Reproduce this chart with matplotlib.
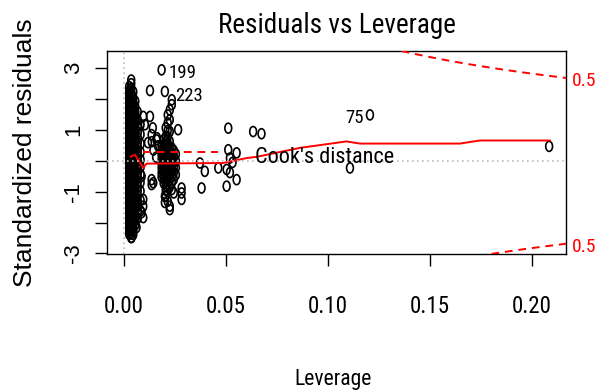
#            ----Residuals vs Leverage----

import numpy as np
import matplotlib
matplotlib.use("Agg")
import matplotlib.pyplot as plt
from matplotlib.path import Path
from matplotlib.transforms import Affine2D, blended_transform_factory

# dense cloud of low-leverage points, one strip per leverage value
strip_lev = [0.0026, 0.0036, 0.0046, 0.0056, 0.0068, 0.0082]
strip_res = [
    [-2.38, -2.27, -2.15, -2.04, -1.93, -1.83, -1.72, -1.62, -1.51, -1.41, -1.31, -1.21,
     -1.11, -1.01, -0.92, -0.82, -0.72, -0.63, -0.53, -0.44, -0.34, -0.25, -0.15, -0.06,
     0.04, 0.13, 0.23, 0.32, 0.42, 0.51, 0.61, 0.71, 0.81, 0.91, 1.01, 1.11, 1.22, 1.32,
     1.43, 1.54, 1.65, 1.77, 1.89, 2.01, 2.14, 2.27, 2.41],
    [-2.49, -2.36, -2.22, -2.1, -1.98, -1.87, -1.76, -1.65, -1.55, -1.45, -1.35, -1.25,
     -1.15, -1.06, -0.96, -0.87, -0.77, -0.68, -0.58, -0.49, -0.39, -0.3, -0.2, -0.11,
     -0.01, 0.08, 0.18, 0.27, 0.37, 0.46, 0.56, 0.66, 0.76, 0.86, 0.96, 1.06, 1.17, 1.27,
     1.38, 1.49, 1.6, 1.72, 1.84, 1.96, 2.09, 2.22, 2.36, 2.5, 2.62],
    [-2.28, -2.14, -2.01, -1.89, -1.77, -1.66, -1.55, -1.44, -1.33, -1.23, -1.13, -1.03,
     -0.93, -0.83, -0.73, -0.63, -0.54, -0.44, -0.35, -0.25, -0.16, -0.06, 0.03, 0.13,
     0.22, 0.32, 0.41, 0.51, 0.61, 0.71, 0.81, 0.91, 1.02, 1.13, 1.24, 1.36, 1.48, 1.61,
     1.75, 1.9, 2.06, 2.24],
    [-2.08, -1.92, -1.77, -1.63, -1.5, -1.37, -1.25, -1.13, -1.01, -0.9, -0.79, -0.68,
     -0.57, -0.46, -0.35, -0.24, -0.13, -0.02, 0.09, 0.2, 0.31, 0.42, 0.53, 0.64, 0.76,
     0.88, 1.0, 1.13, 1.27, 1.42, 1.58, 1.75, 1.93],
    [-1.86, -1.66, -1.47, -1.3, -1.14, -0.98, -0.83, -0.68, -0.54, -0.4, -0.26, -0.12,
     0.02, 0.16, 0.3, 0.45, 0.6, 0.76, 0.93, 1.12, 1.33, 1.58],
    [-1.62, -1.28, -0.98, -0.7, -0.44, -0.2, 0.04, 0.28, 0.55, 0.86, 1.18],
]

# second cluster around leverage 0.02
clus_lev = [0.0185, 0.0195, 0.0205, 0.0215, 0.0225, 0.0235, 0.0245, 0.0255]
clus_res = [
    [-0.52, -0.38, -0.22, -0.08, 0.06, 0.2, 0.34, 0.48],
    [-0.72, -0.58, -0.45, -0.31, -0.17, -0.03, 0.11, 0.25, 0.39, 0.53, 0.68],
    [-1.15, -0.95, -0.8, -0.64, -0.5, -0.36, -0.22, -0.08, 0.06, 0.2, 0.34, 0.48, 0.62,
     0.79, 1.07],
    [-1.31, -0.98, -0.75, -0.58, -0.43, -0.29, -0.15, -0.01, 0.13, 0.27, 0.41, 0.57, 0.78,
     0.98, 1.23, 1.49],
    [-1.58, -1.47, -0.85, -0.62, -0.46, -0.31, -0.17, -0.03, 0.11, 0.25, 0.4, 0.63, 0.95,
     1.33, 1.65],
    [-0.93, -0.7, -0.5, -0.34, -0.19, -0.05, 0.09, 0.24, 0.42, 1.82, 1.98],
    [-1.04, -0.6, -0.38, -0.2, -0.03, 0.15, 0.33],
    [-0.45, -0.22, 0.0, 0.22],
]

# scattered single points
extra_lev = [0.0095, 0.0128, 0.0128, 0.0103, 0.0136, 0.016, 0.0118, 0.0167, 0.0142,
             0.0162, 0.0137, 0.0145, 0.0158, 0.0087, 0.0136, 0.0136, 0.0144, 0.0095,
             0.0095, 0.0087, 0.0095, 0.0062, 0.0046, 0.0038, 0.0266, 0.0283, 0.0283,
             0.0283, 0.0201, 0.0201, 0.0373, 0.0397, 0.0381, 0.0463, 0.0512, 0.0512,
             0.0553, 0.052, 0.0533, 0.0504, 0.052, 0.0553, 0.0504, 0.0634, 0.0675,
             0.1109, 0.2086]
extra_res = [1.44, 1.44, 2.28, 1.17, 0.85, 0.68, 0.59, 0.49, 1.07,
             0.75, 0.62, 0.35, 0.12, -0.5, -0.61, -0.77, -0.71, -1.25,
             -1.47, -1.68, -1.84, -2.16, -2.39, -2.48, 1.01, -0.88, -1.04,
             -1.25, -1.15, -1.35, -0.07, -0.34, -0.88, -0.23, 1.06, 0.36,
             0.26, 0.09, -0.05, -0.28, -0.38, -0.61, -0.82, 0.95, 0.88,
             -0.23, 0.47]

# labelled observations
lab_ids = ["199", "223", "75"]
lab_lev = [0.0185, 0.0201, 0.1207]
lab_res = [2.95, 2.25, 1.49]

# red smoother
smooth_lev = [0.0034, 0.0054, 0.0095, 0.0111, 0.0486, 0.0602, 0.0651, 0.0863,
              0.1092, 0.1158, 0.1648, 0.1746, 0.209]
smooth_res = [0.14, 0.2, -0.23, -0.09, -0.07, 0.09, 0.13, 0.42,
              0.63, 0.56, 0.56, 0.66, 0.66]

n_coef = 4
cook_level = 0.5

lev = []
res = []
for h, rs in zip(strip_lev + clus_lev, strip_res + clus_res):
    lev += [h] * len(rs)
    res += rs
lev += extra_lev + lab_lev
res += extra_res + lab_res

narrow = ["Liberation Sans Narrow", "Arial Narrow", "Roboto Condensed", "PT Sans Narrow",
          "Archivo Narrow", "Liberation Sans"]
regular = ["Liberation Sans", "DejaVu Sans"]

fig = plt.figure(figsize=(6.03, 3.92), dpi=100)
ax = fig.add_axes([0.1774, 0.352, 0.762, 0.5186])

ellipse = Path.unit_circle().transformed(Affine2D().scale(0.68, 1.0))
ax.scatter(lev, res, marker=ellipse, s=52, facecolors="none",
           edgecolors="black", linewidths=1.2, zorder=2)

ax.plot(smooth_lev, smooth_res, color="red", lw=1.4, zorder=3)

ax.axhline(0, color="#bebebe", ls=(0, (1, 2)), lw=1.2, zorder=4)
ax.axvline(0, color="#bebebe", ls=(0, (1, 2)), lw=1.2, zorder=4)

xmin, xmax = -0.0083, 0.2171
ax.set_xlim(xmin, xmax)
ax.set_ylim(-3.02, 3.57)

hh = np.linspace(0.005, xmax, 200)
cook = np.sqrt(cook_level * n_coef * (1 - hh) / hh)
ax.plot(hh, cook, color="red", lw=1.4, dashes=(4, 3), zorder=4)
ax.plot(hh, -cook, color="red", lw=1.4, dashes=(4, 3), zorder=4)

cook_edge = np.sqrt(cook_level * n_coef * (1 - xmax) / xmax)
trans = blended_transform_factory(ax.transAxes, ax.transData)
for sgn in [1, -1]:
    ax.text(1.011, sgn * cook_edge - 0.1, "0.5", transform=trans, color="red",
            ha="left", va="center", fontsize=14, family=narrow, clip_on=False)

# Cook's distance legend
ax.plot([0.078, 0.2416], [0.502, 0.502], transform=ax.transAxes, color="red",
        lw=1.4, dashes=(4, 3), zorder=4)
ax.text(0.322, 0.447, "Cook's distance", transform=ax.transAxes, ha="left",
        va="baseline", fontsize=16, family=narrow, zorder=5)

offsets = [(4.8, -6), (7.2, -7.2), (-4.3, -6)]
for i in range(len(lab_ids)):
    ha = "right" if offsets[i][0] < 0 else "left"
    ax.annotate(lab_ids[i], (lab_lev[i], lab_res[i]), xytext=offsets[i],
                textcoords="offset points", ha=ha, va="baseline",
                fontsize=13.5, family=narrow)

ax.set_xticks([0.0, 0.05, 0.10, 0.15, 0.20])
ax.set_xticklabels(["0.00", "0.05", "0.10", "0.15", "0.20"], family=narrow, fontsize=16.5)
ax.set_yticks([-3, -2, -1, 0, 1, 2, 3])
ax.set_yticklabels(["-3", "", "-1", "", "1", "", "3"], family=regular, fontsize=16,
                   rotation=90, va="center")
ax.tick_params(axis="x", length=8.6, width=1.0, pad=21)
ax.tick_params(axis="y", length=8.6, width=1.0, pad=8)
for sp in ax.spines.values():
    sp.set_linewidth(1.0)

fig.text(0.5585, 1 - 33 / 392, "Residuals vs Leverage", ha="center", va="baseline",
         fontsize=19.5, family=narrow)
fig.text(0.553, 1 - 385 / 392, "Leverage", ha="center", va="baseline",
         fontsize=15.5, family=narrow)
fig.text(37 / 603, 1 - 152.5 / 392, "Standardized residuals", rotation=90,
         ha="right", va="center", fontsize=19, family=regular)

plt.savefig("out.png", dpi=100)
